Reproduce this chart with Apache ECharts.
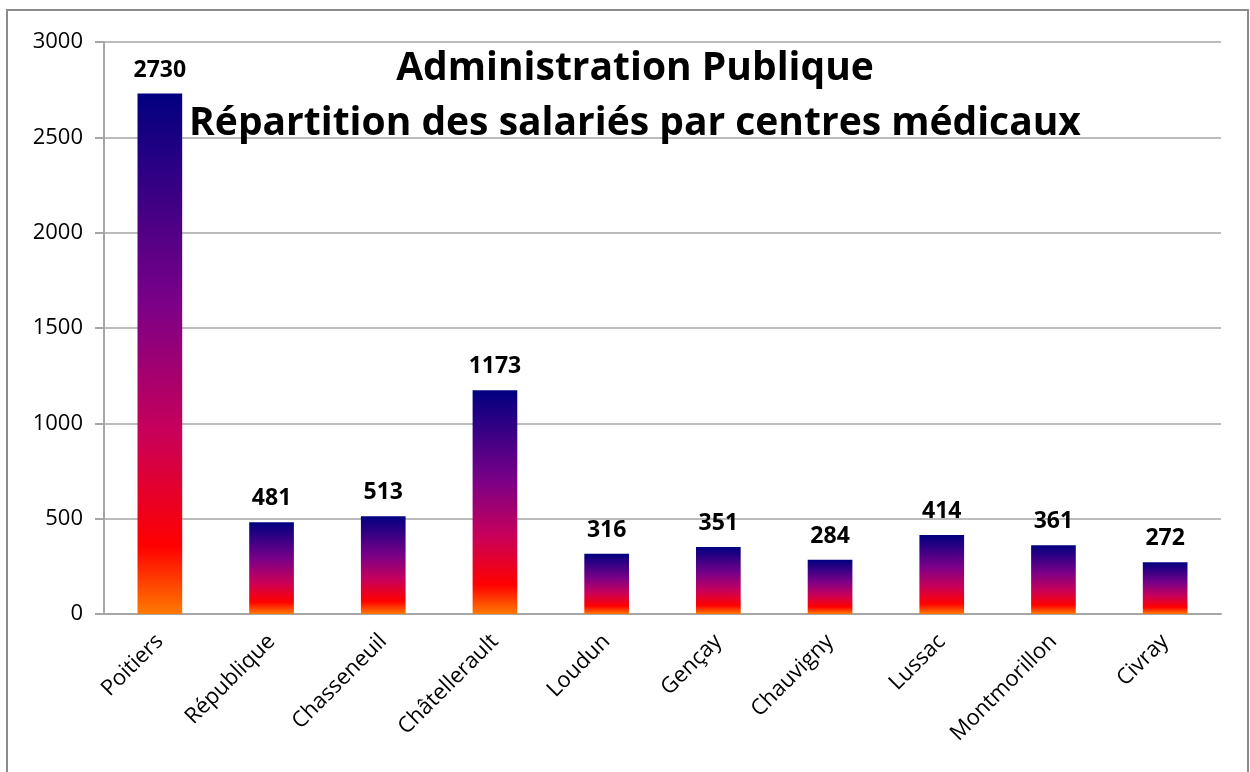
<!DOCTYPE html>
<html>
<head>
<meta charset="utf-8">
<script src="https://cdn.jsdelivr.net/npm/echarts@6/dist/echarts.min.js"></script>
<style>
  html, body { margin: 0; padding: 0; background: #fff; }
  #main { width: 1250px; height: 772px; }
</style>
</head>
<body>
<div id="main"></div>
<script>
// centres médicaux
const categories = ["Poitiers", "République", "Chasseneuil", "Châtellerault", "Loudun",
  "Gençay", "Chauvigny", "Lussac", "Montmorillon", "Civray"];
const salaries = [2730, 481, 513, 1173, 316, 351, 284, 414, 361, 272];
const yTicks = [0, 500, 1000, 1500, 2000, 2500, 3000];

const chart = echarts.init(document.getElementById("main"));

const fire = new echarts.graphic.LinearGradient(0, 0, 0, 1, [
  { offset: 0, color: "#000080" },
  { offset: 0.4, color: "#7a0088" },
  { offset: 0.65, color: "#c8005a" },
  { offset: 0.87, color: "#ff0000" },
  { offset: 1, color: "#ff7a00" },
]);

const option = {
  animation: false,
  backgroundColor: "#fff",
  title: {
    text: "Administration Publique\nRépartition des salariés par centres médicaux",
    left: 630,
    top: 36,
    textAlign: "center",
    textStyle: {
      fontFamily: "Open Sans",
      fontWeight: "bold",
      fontSize: 39,
      lineHeight: 55,
      color: "#000",
    },
  },
  graphic: [
    {
      type: "rect",
      shape: { x: 7, y: 10, width: 1241, height: 790 },
      style: { fill: "none", stroke: "#8c8c8c", lineWidth: 2 },
      z: -1,
    },
  ],
  grid: { left: 104, right: 29, top: 42, bottom: 158 },
  xAxis: {
    type: "category",
    data: categories,
    axisLine: { lineStyle: { color: "#a6a6a6", width: 2 } },
    axisTick: { length: 10, lineStyle: { color: "#a6a6a6", width: 2 } },
    axisLabel: {
      rotate: 45,
      interval: 0,
      margin: 24,
      fontFamily: "Open Sans",
      fontSize: 22,
      color: "#000",
    },
  },
  yAxis: {
    type: "value",
    min: yTicks[0],
    max: yTicks[yTicks.length - 1],
    interval: 500,
    axisLine: { show: true, lineStyle: { color: "#a6a6a6", width: 2 } },
    axisTick: { show: true, length: 9, lineStyle: { color: "#a6a6a6", width: 2 } },
    splitLine: { lineStyle: { color: "#a6a6a6", width: 1.5 } },
    axisLabel: {
      margin: 21,
      fontFamily: "Open Sans",
      fontSize: 22,
      color: "#000",
      formatter: (v) => String(v),
    },
  },
  series: [
    {
      type: "bar",
      data: salaries,
      barWidth: "40%",
      itemStyle: { color: fire },
      label: {
        show: true,
        position: "top",
        distance: 12,
        fontFamily: "Open Sans",
        fontWeight: "bold",
        fontSize: 23,
        color: "#000",
      },
    },
  ],
};

chart.setOption(option);
</script>
</body>
</html>
